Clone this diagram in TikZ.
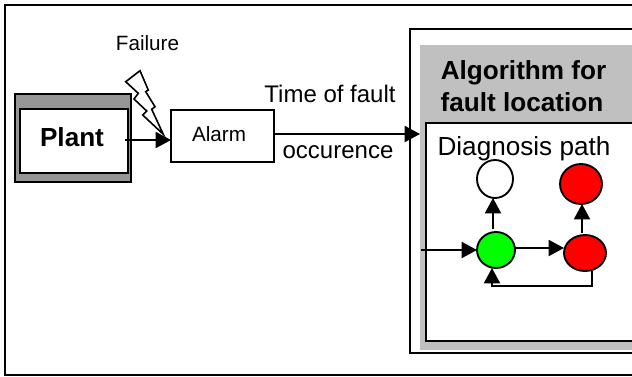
\documentclass[tikz,border=0pt]{standalone}
\usepackage{fontspec}
\setmainfont{Liberation Sans}
\usetikzlibrary{arrows.meta,shapes.geometric}
\tikzset{
  px/.style={x=0.75pt,y=-0.75pt},
  box/.style={draw=black,line width=1.4pt,rectangle,inner sep=0pt,outer sep=0pt},
  state/.style={draw=black,line width=1.4pt,ellipse,inner sep=0pt,outer sep=0pt},
  conn/.style={draw=black,line width=1.4pt,-{Triangle[length=11.5pt,width=12pt]},shorten >=0pt},
  plainline/.style={draw=black,line width=1.4pt},
  frameline/.style={draw=black,line width=1.5pt},
  lab/.style={anchor=base,inner sep=0pt,text=black},
  f20/.style={font=\fontsize{15.5pt}{18pt}\selectfont},
  f24/.style={font=\fontsize{18pt}{22pt}\selectfont},
  f26/.style={font=\fontsize{19.6pt}{24pt}\selectfont},
  b26/.style={font=\fontsize{19.6pt}{24pt}\selectfont\bfseries},
}
\definecolor{plantgray}{HTML}{969696}
\definecolor{panelgray}{HTML}{C0C0C0}
\begin{document}
\begin{tikzpicture}[px]
\useasboundingbox (0,0) rectangle (632,376);
\fill[white] (0,0) rectangle (632,376);
% outer frame (open to the right)
\draw[frameline] (632,5) -- (5,5) -- (5,375) -- (632,375);
% algorithm frame
\draw[frameline] (632,29) -- (410,29) -- (410,353) -- (632,353);
\fill[panelgray] (420,45) rectangle (632,350);
\fill[white] (426,123) rectangle (632,341);
\draw[frameline] (632,123) -- (426,123) -- (426,341) -- (632,341);
% plant
\node[box,fill=plantgray,minimum width=116*0.75pt,minimum height=88*0.75pt] (plantouter) at (73,138) {};
\node[box,fill=white,minimum width=108*0.75pt,minimum height=64*0.75pt] (plant) at (74,141) {};
\node[lab,b26] (planttext) at (72,146) {Plant};
% alarm
\node[box,fill=white,minimum width=103*0.75pt,minimum height=52*0.75pt] (alarm) at (222.5,136) {};
\node[lab,f20] (alarmtext) at (219,141) {Alarm};
% lightning
\draw[draw=black,fill=white,line width=1.2pt,line join=miter]
  (140,70.7) -- (148.3,90) -- (145.7,91.7) -- (155,106.7) -- (151.7,109.3) -- (163.3,134.3)
  -- (142.7,115) -- (146.7,111) -- (134,99) -- (138.3,93.3) -- (125.7,81.7) -- cycle;
% labels
\node[lab,f20] (failure) at (147.5,50) {Failure};
\node[lab,f24] (timefault) at (330,102) {Time of fault};
\node[lab,f24] (occurence) at (338,158) {occurence};
\node[lab,b26] (algo1) at (523.5,79) {Algorithm for};
\node[lab,b26] (algo2) at (522,111) {fault location};
\node[lab,f26] (diag) at (524,155) {Diagnosis path};
% states
\node[state,fill=white,minimum width=36*0.75pt,minimum height=38*0.75pt] (sw) at (495,179) {};
\node[state,fill=red,minimum width=42*0.75pt,minimum height=40*0.75pt] (srt) at (581,184) {};
\node[state,fill=green,minimum width=38*0.75pt,minimum height=36*0.75pt] (sg) at (496,250) {};
\node[state,fill=red,minimum width=42*0.75pt,minimum height=36*0.75pt] (srl) at (585,253) {};
% free ends
\coordinate (pstart) at (125,140);
\coordinate (instart) at (421,250);
\coordinate (fbend) at (491,286);
% connectors
\draw[conn] (pstart) -- (alarm.west |- pstart);
\draw[conn] (alarm.east |- 0,134) -- (420,134);
\draw[conn] (instart) -- (sg.west);
\draw[conn] (sg.east |- 0,248) -- (srl.west |- 0,248);
\draw[conn] (493,229) -- (sw.south -| 493,0);
\draw[conn] (582,233) -- (srt.south -| 582,0);
\draw[plainline] (srl.south -| 592,0) |- (fbend);
\draw[conn] (492,287) -- (sg.south -| 492,0);
\end{tikzpicture}
\end{document}
